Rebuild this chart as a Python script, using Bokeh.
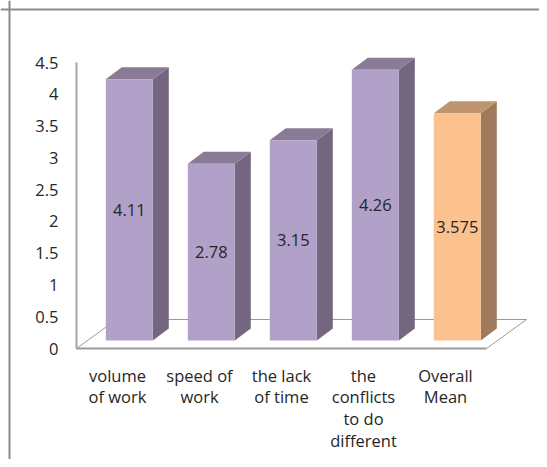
from bokeh.plotting import figure
from bokeh.models import Range1d, LinearAxis, FixedTicker, Span
from bokeh.core.properties import value
from bokeh.embed import file_html
from bokeh.resources import INLINE

categories = ["volume\nof work", "speed of\nwork", "the lack\nof time", "the\nconflicts\nto do\ndifferent", "Overall\nMean"]
values = [4.11, 2.78, 3.15, 4.26, 3.575]
labels = ["4.11", "2.78", "3.15", "4.26", "3.575"]
y_ticks = [0, 0.5, 1, 1.5, 2, 2.5, 3, 3.5, 4, 4.5]
y_tick_labels = ["0", "0.5", "1", "1.5", "2", "2.5", "3", "3.5", "4", "4.5"]
front_colors = ["#B1A0C7", "#B1A0C7", "#B1A0C7", "#B1A0C7", "#FBC18F"]
side_colors = ["#74667F", "#74667F", "#74667F", "#74667F", "#9F7B5B"]
top_colors = ["#897A96", "#897A96", "#897A96", "#897A96", "#BF9570"]

# layout (px)
W, H = 539, 459
ORIGIN_X, ORIGIN_Y = 76, 348   # plot origin inside the figure
PX_X, PX_Y = 82.0, 63.55       # px per category / per value unit
FRAME_INSET = 9
FONT = "Open Sans"
FONT_SIZE = "16.5px"
TEXT_COLOR = "#262626"
dx = lambda px: px / PX_X
dy = lambda px: px / PX_Y

p = figure(width=W, height=H, output_backend="svg", toolbar_location=None,
           x_range=Range1d(-ORIGIN_X / PX_X, (W - ORIGIN_X) / PX_X),
           y_range=Range1d(-(H - ORIGIN_Y) / PX_Y, ORIGIN_Y / PX_Y),
           min_border=0, x_axis_location=None, y_axis_location=None)
p.grid.visible = False
p.outline_line_color = None
p.background_fill_color = "#ffffff"

# outer frame: only its left and top edges show
p.add_layout(Span(location=(FRAME_INSET - ORIGIN_X) / PX_X, dimension="height", line_color="#8c8c8c", line_width=2))
p.add_layout(Span(location=(ORIGIN_Y - FRAME_INSET) / PX_Y, dimension="width", line_color="#8c8c8c", line_width=2))

# floor
FLOOR_X, FLOOR_Y = dx(40), dy(29)
n = len(values)
p.line([0, FLOOR_X, n + FLOOR_X, n], [0, FLOOR_Y, FLOOR_Y, 0], line_color="#9a9a9a", line_width=1)

# bars
BAR_W = dx(47)
SHIFT_X, SHIFT_Y = dx(29.3), dy(8)
DEPTH_X, DEPTH_Y = dx(16), dy(12)
for i, v in enumerate(values):
    x0 = i + SHIFT_X
    x1 = x0 + BAR_W
    y0 = SHIFT_Y
    y1 = y0 + v
    p.patch([x1, x1 + DEPTH_X, x1 + DEPTH_X, x1], [y0, y0 + DEPTH_Y, y1 + DEPTH_Y, y1],
            fill_color=side_colors[i], line_color=None)
    p.patch([x0, x0 + DEPTH_X, x1 + DEPTH_X, x1], [y1, y1 + DEPTH_Y, y1 + DEPTH_Y, y1],
            fill_color=top_colors[i], line_color=None)
    p.quad(left=[x0], right=[x1], bottom=[y0], top=[y1], fill_color=front_colors[i], line_color=None)
    p.text([(x0 + x1) / 2], [y0 + v / 2], text=[labels[i]], text_align="center", text_baseline="middle",
           text_font=value(FONT), text_font_size=FONT_SIZE, text_color=TEXT_COLOR)

# axes
xaxis = LinearAxis(fixed_location=0, ticker=FixedTicker(ticks=[i + 0.5 for i in range(n)]),
                   major_label_overrides={i + 0.5: c for i, c in enumerate(categories)})
xaxis.bounds = (0, n)
xaxis.axis_line_color = "#9a9a9a"
xaxis.axis_line_width = 2
xaxis.major_tick_line_color = None
xaxis.minor_tick_line_color = None
xaxis.major_tick_out = 0
xaxis.major_label_standoff = 15
xaxis.major_label_text_font = FONT
xaxis.major_label_text_font_size = FONT_SIZE
xaxis.major_label_text_color = TEXT_COLOR
xaxis.major_label_text_line_height = 0.95
p.add_layout(xaxis, "below")

yaxis = LinearAxis(fixed_location=0, ticker=FixedTicker(ticks=y_ticks),
                   major_label_overrides=dict(zip(y_ticks, y_tick_labels)))
yaxis.bounds = (0, 4.5)
yaxis.axis_line_color = "#a6a6a6"
yaxis.axis_line_width = 2
yaxis.major_tick_line_color = None
yaxis.minor_tick_line_color = None
yaxis.major_tick_out = 0
yaxis.major_label_standoff = 18
yaxis.major_label_text_font = FONT
yaxis.major_label_text_font_size = FONT_SIZE
yaxis.major_label_text_color = TEXT_COLOR
p.add_layout(yaxis, "left")

open("out.html", "w").write(file_html(p, INLINE))
